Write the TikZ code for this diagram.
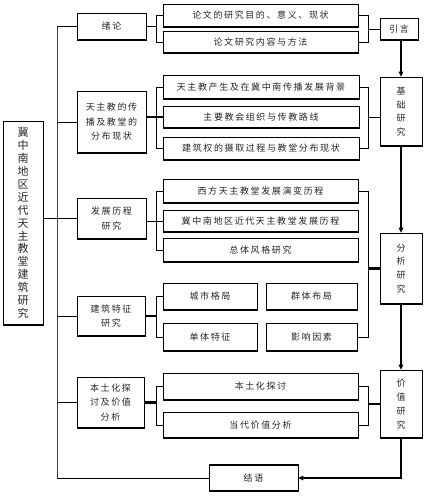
\documentclass[tikz,border=0pt]{standalone}
\usepackage{fontspec}
\newfontfamily\cjk[LetterSpace=18]{Noto Sans CJK SC}
\newfontfamily\cjkv{Noto Sans CJK SC}
\usetikzlibrary{arrows.meta}
\begin{document}
\begin{tikzpicture}[x=1pt,y=-1pt,
 box/.style={draw, line width=0.7pt, inner sep=0pt, align=center, text=black!85,
   font=\cjk\fontsize{9}{14.5}\selectfont,
   path picture={\draw[line width=2.4pt] (path picture bounding box.north west) -- (path picture bounding box.north east)
     (path picture bounding box.south west) -- (path picture bounding box.south east);}},
 vbox/.style={box, font=\cjkv\fontsize{9}{13.8}\selectfont},
 conn/.style={line width=1pt},
 joinline/.style={line width=2.2pt},
 spine/.style={line width=0.8pt, black!75},
 arr/.style={line width=1.8pt, -{Triangle[length=5pt,width=4.5pt]}}]
\useasboundingbox (0,0) rectangle (425,496);

% main
\node[box, font=\cjkv\fontsize{11}{12.9}\selectfont, minimum width=40pt, minimum height=204pt] (main) at (23,223)
 {冀\\中\\南\\地\\区\\近\\代\\天\\主\\教\\堂\\建\\筑\\研\\究};

% level 2
\node[box, minimum width=69pt, minimum height=27pt] (n1) at (111.5,26.5) {绪论};
\node[box, minimum width=69pt, minimum height=62pt] (n2) at (111.5,122) {天主教的传\\播及教堂的\\分布现状};
\node[box, minimum width=69pt, minimum height=41pt] (n3) at (111.5,218.5) {发展历程\\研究};
\node[box, minimum width=68pt, minimum height=40pt] (n4) at (111,316) {建筑特征\\研究};
\node[box, minimum width=67pt, minimum height=51pt] (n5) at (110.5,402.5) {本土化探\\讨及价值\\分析};

% level 3
\node[box, minimum width=195pt, minimum height=23pt] (a1) at (260.5,15.5) {论文的研究目的、意义、现状};
\node[box, minimum width=195pt, minimum height=22pt] (a2) at (260.5,42) {论文研究内容与方法};
\node[box, minimum width=196pt, minimum height=24pt] (b1) at (261,87) {天主教产生及在冀中南传播发展背景};
\node[box, minimum width=196pt, minimum height=22pt] (b2) at (261,117) {主要教会组织与传教路线};
\node[box, minimum width=196pt, minimum height=23pt] (b3) at (261,148.5) {建筑权的摄取过程与教堂分布现状};
\node[box, minimum width=195pt, minimum height=24pt] (c1) at (260.5,191) {西方天主教堂发展演变历程};
\node[box, minimum width=195pt, minimum height=22pt] (c2) at (260.5,221) {冀中南地区近代天主教堂发展历程};
\node[box, minimum width=195pt, minimum height=24pt] (c3) at (260.5,250) {总体风格研究};
\node[box, minimum width=94pt, minimum height=27pt] (d1) at (210,296.5) {城市格局};
\node[box, minimum width=91pt, minimum height=27pt] (d2) at (311.5,296.5) {群体布局};
\node[box, minimum width=94pt, minimum height=28pt] (d3) at (210,337) {单体特征};
\node[box, minimum width=91pt, minimum height=28pt] (d4) at (311.5,337) {影响因素};
\node[box, minimum width=195pt, minimum height=27pt] (e1) at (260.5,386.5) {本土化探讨};
\node[box, minimum width=195pt, minimum height=26pt] (e2) at (260.5,425) {当代价值分析};

% right column
\node[box, minimum width=38pt, minimum height=22pt] (r0) at (399,29) {引言};
\node[vbox, minimum width=42pt, minimum height=69pt] (r1) at (401,111.5) {基\\础\\研\\究};
\node[vbox, minimum width=42pt, minimum height=71pt] (r2) at (401,268.5) {分\\析\\研\\究};
\node[vbox, minimum width=42pt, minimum height=68pt] (r3) at (401,404) {价\\值\\研\\究};
\node[box, minimum width=89pt, minimum height=27pt] (concl) at (253.5,478) {结语};

\coordinate (sp) at (57,0);
\coordinate (lb) at (156,0);
\coordinate (rb) at (368,0);

% spine
\draw[spine] (n1.west -| sp) -- (concl.west -| sp);
\draw[conn] (n1.west) -- (n1.west -| sp);
\draw[conn] (n2.west) -- (n2.west -| sp);
\draw[conn] (main.east |- n3.west) -- (n3.west);
\draw[conn] (n4.west) -- (n4.west -| sp);
\draw[conn] (n5.west) -- (n5.west -| sp);
\draw[conn] (concl.west -| sp) -- (concl.west);

% left brackets
\draw[conn] (n1.east) -- (n1.east -| lb);
\draw[conn] (a1.west) -- (a1.west -| lb) -- (a2.west -| lb) -- (a2.west);
\draw[joinline] (n2.east |- b2.west) -- (b2.west);
\draw[conn] (b1.west) -- (b1.west -| lb) -- (b3.west -| lb) -- (b3.west);
\draw[conn] (n3.east |- c2.west) -- (c2.west);
\draw[conn] (c1.west) -- (c1.west -| lb) -- (c3.west -| lb) -- (c3.west);
\draw[joinline] (n4.east) -- (n4.east -| lb);
\draw[conn] (d1.west) -- (d1.west -| lb) -- (d3.west -| lb) -- (d3.west);
\draw[joinline] (n5.east) -- (n5.east -| lb);
\draw[conn] (e1.west) -- (e1.west -| lb) -- (e2.west -| lb) -- (e2.west);

% right brackets
\draw[conn] (a1.east) -- (a1.east -| rb) -- (a2.east -| rb) -- (a2.east);
\draw[conn] (r0.west -| rb) -- (r0.west);
\draw[conn] (b1.east) -- (b1.east -| rb) -- (b3.east -| rb) -- (b3.east);
\draw[conn] (b2.east -| rb) -- (r1.west |- b2.east);
\draw[conn] (c1.east) -- (c1.east -| rb) -- (d4.east -| rb) -- (d4.east);
\draw[joinline] (r2.west -| rb) -- (r2.west);
\draw[conn] (e1.east) -- (e1.east -| rb) -- (e2.east -| rb) -- (e2.east);
\draw[joinline] (r3.west -| rb) -- (r3.west);

% arrows
\draw[arr] (r0.south -| r1.north) -- (r1.north);
\draw[arr] (r1.south) -- (r2.north);
\draw[arr] (r2.south) -- (r3.north);
\draw[arr] (r3.south) |- (concl.east);
\end{tikzpicture}
\end{document}
